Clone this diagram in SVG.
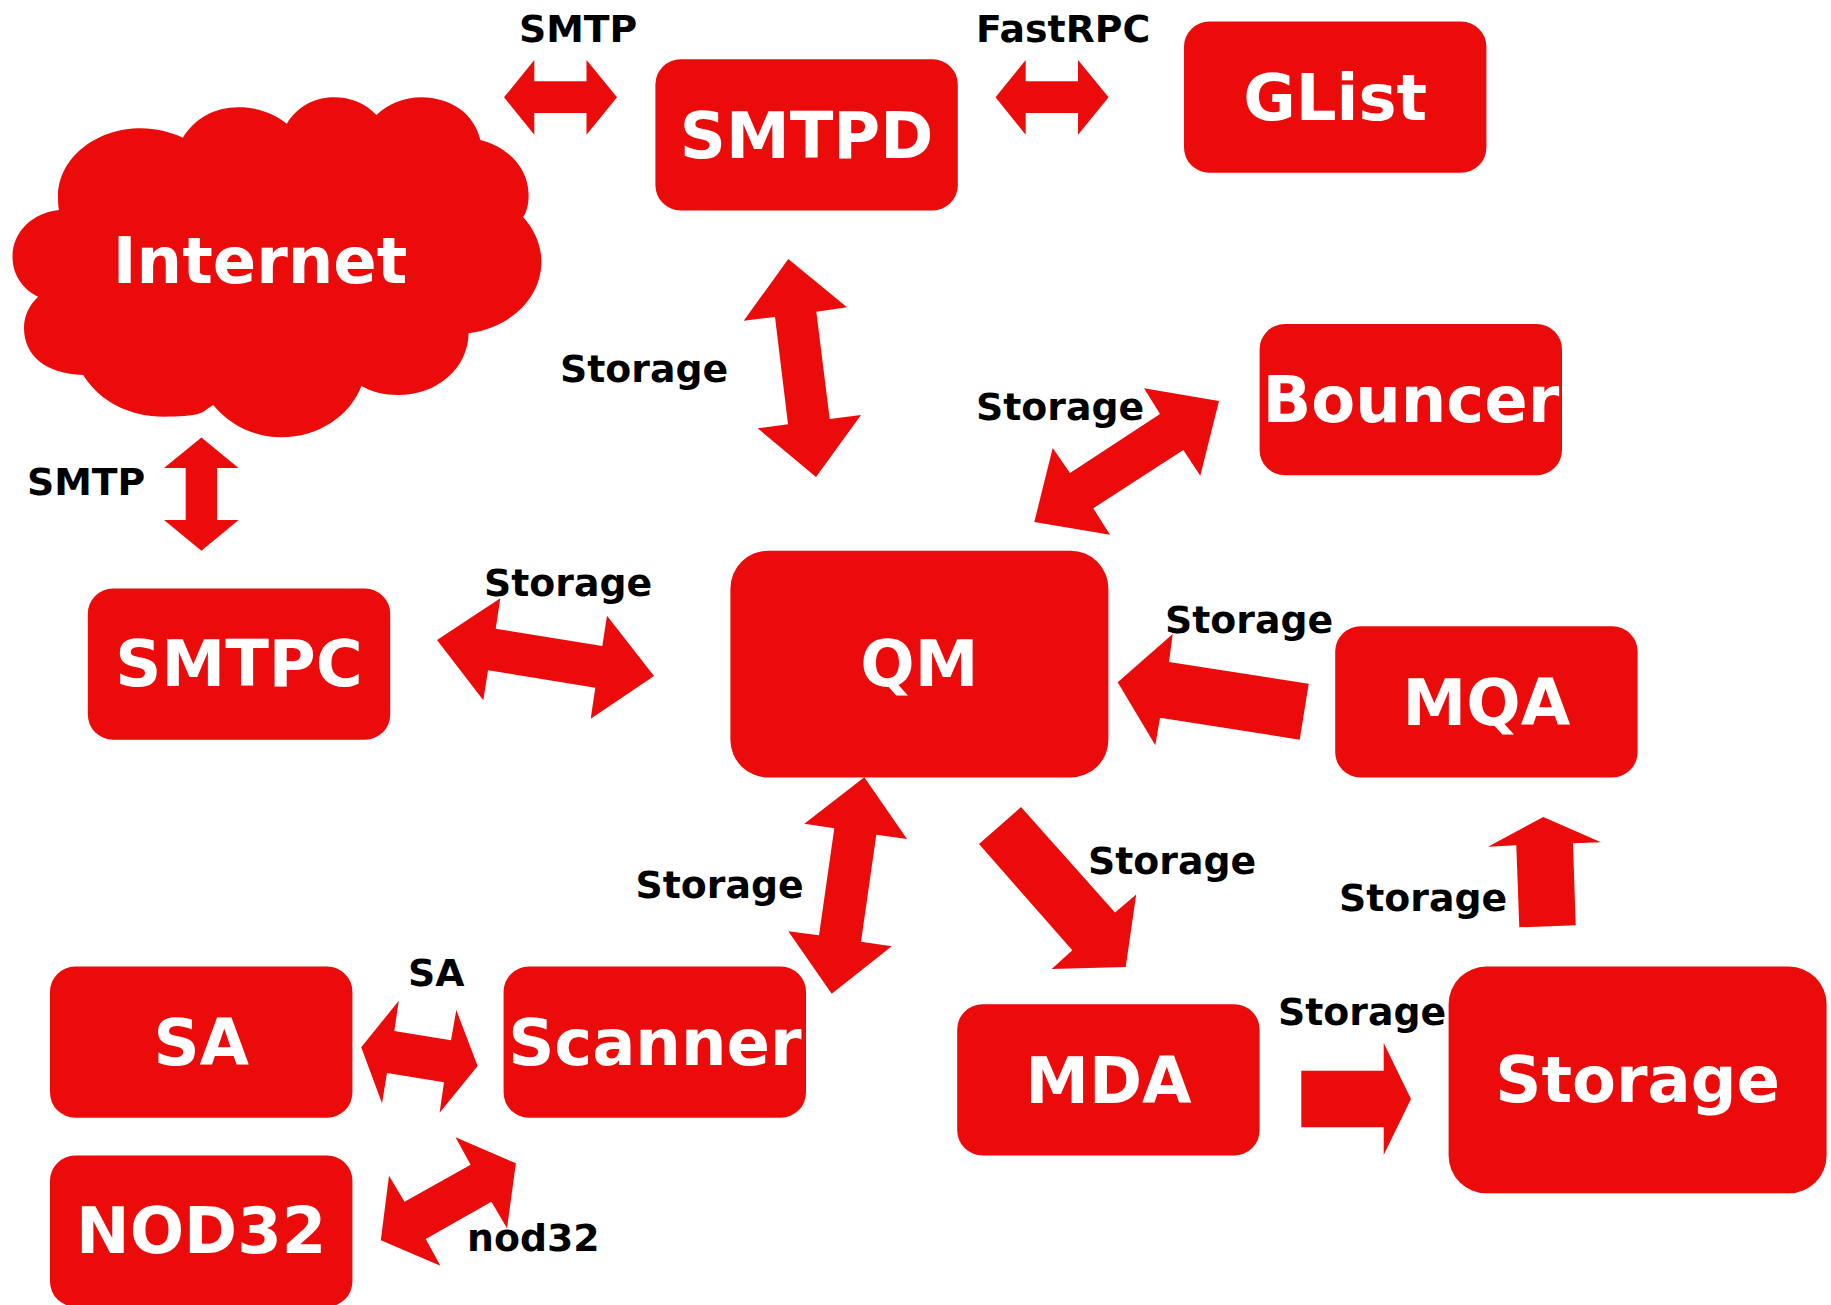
<svg xmlns="http://www.w3.org/2000/svg" width="1831" height="1305" viewBox="0 0 1831 1305">
<style>
.s{fill:#ec0b0b}
.n{font-family:"DejaVu Sans",sans-serif;font-weight:700;font-size:64px;fill:#fff;text-anchor:middle}
.l{font-family:"DejaVu Sans",sans-serif;font-weight:700;font-size:37.8px;fill:#000}
</style>
<rect width="1831" height="1305" fill="#fff"/>
<g id="connectors" class="s">
<polygon points="504,97.3 534.3,60 534.3,81.3 586.5,81.3 586.5,60 617,97.3 586.5,134.7 586.5,113 534.3,113 534.3,134.7"/>
<polygon points="995.5,97.3 1025.7,60 1025.7,81.3 1078,81.3 1078,60 1108.6,97.3 1078,134.7 1078,113 1025.7,113 1025.7,134.7"/>
<polygon points="201.4,437.6 238.6,468 217.1,468 217.1,520 238.6,520 201.4,550.7 164,520 185.7,520 185.7,468 164,468"/>
<polygon points="788.3,259 847,307.3 816.3,311.7 829.7,419 861,415 816,477 757.7,428.3 788,424.3 775,317 743.7,320.7"/>
<polygon points="1219,401 1144,388.3 1160,414 1070,473 1052.7,448 1034.3,522 1110,534.7 1093.3,508.3 1183.3,450 1200.3,475.7"/>
<polygon points="500.3,598.3 437,640 483.3,700.3 488,670.3 595.3,687.7 590.7,718.7 654,676 607,615.7 602.3,646 495.7,628.7"/>
<polygon points="1172.7,634 1117.7,682.3 1155.3,745.3 1160,717.7 1299.7,739.7 1308.7,683.7 1169,662"/>
<polygon points="864.3,777.3 907,839 876.3,834.7 861,941.7 891.7,946.3 831.7,993.7 788.3,931.3 819,935.3 834.3,828.3 804.3,823.7"/>
<polygon points="1021,807 979,844 1072.3,950.3 1051.7,969 1125.7,966.9 1136.2,894.5 1115,912.5"/>
<polygon points="1543.3,817 1601,842.3 1573,843.3 1575.7,925.3 1519.3,927.3 1516.3,845.3 1488,846.7"/>
<polygon points="1301.3,1070.7 1383.7,1070.7 1383.7,1043 1411,1099 1383.7,1155 1383.7,1127.3 1301.3,1127.3"/>
<polygon points="398.8,1000.7 361.2,1047.3 382,1103.3 387,1073 444,1082.3 439.6,1112.7 477.6,1066 456.3,1010 451,1040.3 394.3,1031"/>
<polygon points="455.5,1137.3 515.9,1163.3 507,1228.3 491.4,1201.7 425.7,1239 440.4,1265.7 380.8,1240.3 389,1175.7 404.5,1201.7 470.6,1164.7"/>
</g>
<g id="labels" class="l">
<text x="519" y="41.500">SMTP</text>
<text x="976" y="41.500">FastRPC</text>
<text x="560" y="381.500">Storage</text>
<text x="976" y="419.500">Storage</text>
<text x="484" y="595.500">Storage</text>
<text x="1165" y="633">Storage</text>
<text x="635.500" y="898">Storage</text>
<text x="1088" y="874">Storage</text>
<text x="1339" y="910.500">Storage</text>
<text x="1278" y="1024.500">Storage</text>
<text x="27" y="495">SMTP</text>
<text x="408" y="986">SA</text>
<text x="467" y="1251">nod32</text>
</g>
<g id="internet">
<path class="s" d="M182.900,137.700C195,118 215,107 239.300,107.300C258,107.300 275,114 286.800,123.700C297,107 314,97.300 334,97.300C350,97.300 365,103 376.400,115C388,104 404,97.300 421.400,97.300C450,97.300 474,113 480.400,140C508,147 528.600,168 528.600,195C528.600,204 527,211 523.200,217.300C534,229 541.400,245 541.400,261.700C541.400,298 510,328 468.600,333.300C468,368 438,395 398,395C384,395 372,392 361.400,386C350,416 318,437.300 281.400,437.300C254,437.300 230,425 213.200,405C208,408 204,412 200,413.300C192,416 178,416.700 164.300,416.700C130,416.700 100,402 83.200,375C45,374 24,355 24,328C24,316 29,305 38.200,296.700C22,289 12.500,274 12.500,256.700C12.500,232 32,213 59,210C58,206 58,201 58,196.700C58,158 96,128.300 141,128.300C156,128.300 170,132 182.900,137.700Z"/>
<text class="n" x="260" y="282.500">Internet</text>
</g>
<g id="smtpd"><rect class="s" x="655.400" y="59.300" width="302.400" height="151.200" rx="25.200"/><text class="n" x="806.600" y="157.500">SMTPD</text></g>
<g id="glist"><rect class="s" x="1184" y="21.500" width="302.400" height="151.200" rx="25.200"/><text class="n" x="1335.200" y="120">GList</text></g>
<g id="bouncer"><rect class="s" x="1259.600" y="324" width="302.400" height="151.200" rx="25.200"/><text class="n" x="1410.800" y="422">Bouncer</text></g>
<g id="qm"><rect class="s" x="730.400" y="550.700" width="378" height="226.800" rx="37.800"/><text class="n" x="919.400" y="686">QM</text></g>
<g id="smtpc"><rect class="s" x="87.800" y="588.500" width="302.400" height="151.200" rx="25.200"/><text class="n" x="239" y="686">SMTPC</text></g>
<g id="mqa"><rect class="s" x="1335.200" y="626.300" width="302.400" height="151.200" rx="25.200"/><text class="n" x="1486.400" y="725">MQA</text></g>
<g id="sa"><rect class="s" x="50" y="966.500" width="302.400" height="151.200" rx="25.200"/><text class="n" x="201.200" y="1064.500">SA</text></g>
<g id="scanner"><rect class="s" x="503.600" y="966.500" width="302.400" height="151.200" rx="25.200"/><text class="n" x="654.800" y="1064.500">Scanner</text></g>
<g id="nod32"><rect class="s" x="50" y="1155.500" width="302.400" height="151.200" rx="25.200"/><text class="n" x="201.200" y="1253.300">NOD32</text></g>
<g id="mda"><rect class="s" x="957.200" y="1004.300" width="302.400" height="151.200" rx="25.200"/><text class="n" x="1108.400" y="1102.500">MDA</text></g>
<g id="storage"><rect class="s" x="1448.600" y="966.500" width="378" height="226.800" rx="37.800"/><text class="n" x="1637.600" y="1102">Storage</text></g>
</svg>
